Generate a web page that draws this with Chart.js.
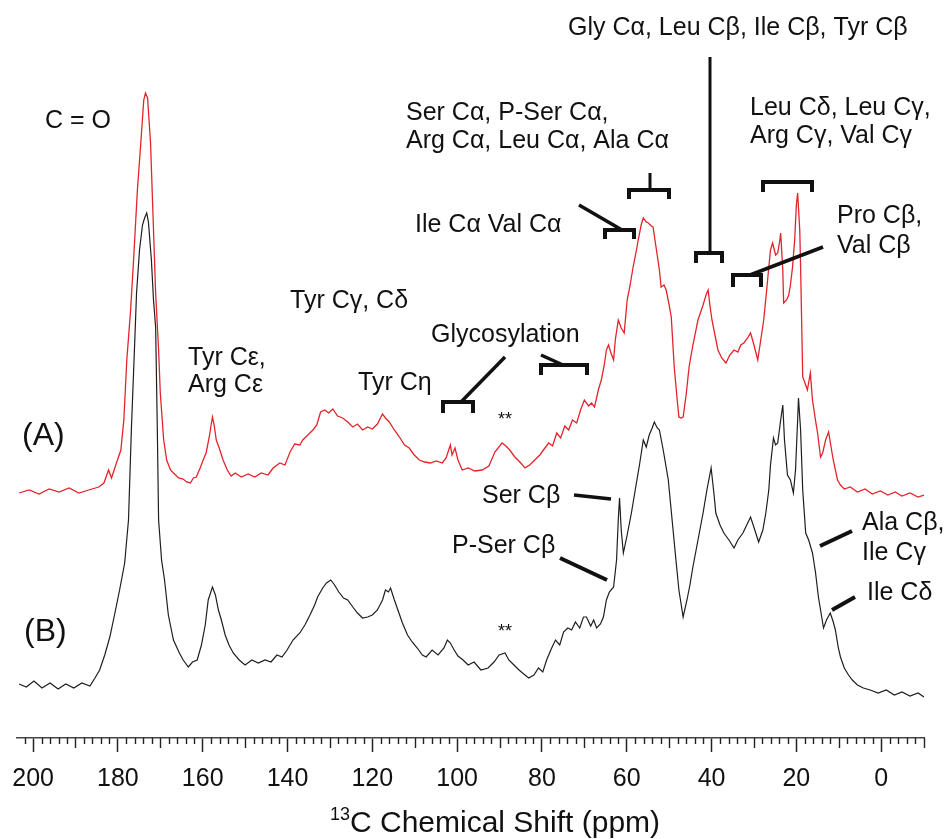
<!DOCTYPE html>
<html>
<head>
<meta charset="utf-8">
<script src="https://cdn.jsdelivr.net/npm/chart.js@4.4.0/dist/chart.umd.min.js"></script>
<style>
  html, body { margin: 0; padding: 0; background: #fff; }
</style>
</head>
<body>
<canvas id="nmrChart" width="950" height="839"></canvas>
<script>
// 13C spectra: (A) red trace on top, (B) black trace below
// intensity = height above each trace's own baseline

const ppmA = [
  203.3, 200.9, 198.6, 196.2, 193.9, 191.5, 189.2, 186.9, 184.5, 183.3,
  182.2, 181.5, 180.5, 179.3, 178.6, 177.9, 177.0, 176.3, 175.4, 174.6,
  173.9, 173.5, 173.0, 172.3, 171.6, 171.1, 170.4, 170.0, 169.2, 168.5,
  167.6, 166.9, 165.7, 164.6, 163.8, 162.9, 162.2, 161.5, 160.6, 159.9,
  159.2, 158.5, 157.7, 157.3, 156.8, 156.1, 155.2, 154.2, 153.3, 152.3,
  150.9, 149.3, 147.7, 146.2, 144.6, 143.4, 141.8, 140.6, 139.4, 138.3,
  137.1, 136.4, 135.2, 134.0, 133.1, 132.2, 131.2, 130.3, 129.3, 128.2,
  127.0, 125.8, 124.6, 123.5, 122.3, 121.1, 120.0, 118.8, 117.6, 116.9,
  116.0, 114.8, 113.6, 112.4, 111.3, 110.1, 108.9, 107.7, 106.3, 104.9,
  103.5, 102.6, 101.6, 101.2, 100.5, 99.8, 98.8, 97.4, 95.8, 94.1,
  92.5, 91.1, 89.4, 88.5, 87.6, 86.4, 85.2, 84.0, 82.9, 81.7,
  80.5, 79.3, 78.4, 77.5, 76.5, 75.6, 74.6, 73.7, 72.8, 71.8,
  70.9, 70.0, 69.0, 68.3, 67.6, 66.7, 66.0, 65.3, 64.8, 64.3,
  63.8, 63.1, 62.7, 62.0, 61.3, 60.6, 59.9, 59.2, 58.5, 57.7,
  57.3, 56.6, 56.1, 55.4, 54.9, 54.2, 53.8, 53.1, 52.3, 51.9,
  51.2, 50.7, 50.0, 49.5, 48.8, 48.1, 47.7, 47.2, 46.7, 46.0,
  45.3, 44.4, 43.2, 42.0, 41.3, 40.8, 40.4, 39.9, 39.2, 38.5,
  37.6, 36.6, 35.7, 34.7, 33.8, 33.1, 32.4, 31.5, 30.8, 30.0,
  29.1, 28.4, 27.7, 27.0, 26.5, 26.1, 25.6, 24.9, 24.4, 23.9,
  23.7, 23.2, 23.0, 22.3, 21.8, 21.4, 20.9, 20.4, 20.0, 19.7,
  19.2, 19.0, 18.5, 17.8, 17.4, 16.7, 16.2, 15.5, 15.0, 14.3,
  13.8, 13.1, 12.4, 11.7, 11.3, 10.3, 9.6, 8.7, 7.3, 5.6,
  3.8, 2.1, 0.2, -1.6, -3.3, -4.9, -6.8, -8.7, -10.1
]
const intA = [
  0, 3, -1, 4, 1, 5, 0, 3, 6, 10,
  23, 15, 28, 43, 73, 133, 183, 233, 303, 350,
  393, 400, 395, 350, 263, 200, 143, 100, 53, 33,
  23, 20, 15, 14, 11, 10, 15, 16, 25, 33,
  40, 55, 76, 68, 53, 45, 33, 23, 17, 20,
  16, 19, 16, 20, 18, 25, 30, 28, 41, 49,
  48, 53, 58, 63, 68, 81, 83, 80, 84, 77,
  75, 71, 66, 69, 63, 66, 64, 69, 79, 75,
  71, 63, 56, 48, 45, 38, 33, 31, 30, 32,
  30, 35, 48, 38, 45, 33, 23, 25, 22, 23,
  27, 41, 50, 47, 43, 36, 31, 25, 28, 33,
  38, 45, 50, 47, 60, 55, 67, 63, 73, 70,
  83, 93, 87, 90, 86, 103, 113, 128, 143, 148,
  141, 133, 153, 173, 165, 160, 193, 208, 226, 243,
  253, 268, 275, 271, 270, 267, 266, 246, 223, 206,
  208, 203, 188, 176, 126, 93, 76, 75, 76, 98,
  126, 148, 173, 188, 198, 203, 188, 173, 158, 143,
  135, 130, 138, 143, 141, 148, 150, 155, 160, 148,
  133, 153, 173, 203, 226, 243, 250, 238, 240, 253,
  260, 223, 190, 193, 198, 208, 226, 253, 288, 300,
  263, 226, 116, 108, 103, 120, 93, 73, 60, 36,
  40, 53, 61, 43, 33, 13, 8, 4, 6, 1,
  4, -1, 2, -2, 1, -3, 0, -4, -2
]

const ppmB = [
  203.3, 201.6, 199.8, 197.9, 196.0, 194.1, 192.3, 190.4, 188.5, 186.6,
  185.4, 184.3, 183.1, 181.9, 180.8, 179.6, 178.4, 177.5, 176.8, 176.1,
  175.6, 174.9, 174.2, 173.7, 173.2, 172.8, 172.1, 171.6, 171.1, 170.7,
  170.4, 169.7, 169.0, 168.1, 166.9, 165.5, 164.6, 163.4, 162.4, 161.3,
  160.3, 159.4, 158.7, 157.7, 157.0, 156.3, 155.6, 154.7, 153.8, 152.8,
  151.4, 150.0, 148.4, 146.9, 145.3, 143.9, 142.5, 141.3, 140.1, 138.7,
  137.1, 135.9, 134.7, 133.6, 132.9, 131.7, 130.8, 129.8, 128.9, 127.9,
  126.8, 125.8, 124.6, 123.5, 122.3, 121.1, 120.0, 118.8, 117.6, 116.9,
  116.2, 115.7, 114.8, 113.8, 112.9, 111.7, 110.6, 109.4, 108.2, 107.3,
  105.9, 104.5, 103.1, 102.3, 101.6, 100.7, 99.8, 98.6, 97.4, 96.0,
  94.4, 92.7, 91.3, 90.1, 88.7, 87.8, 86.6, 85.4, 84.3, 83.1,
  81.9, 80.8, 79.8, 78.9, 77.7, 76.8, 75.8, 74.9, 73.9, 73.0,
  72.1, 71.1, 70.2, 69.5, 68.5, 67.8, 67.1, 66.2, 65.5, 64.8,
  64.1, 63.1, 62.4, 62.0, 61.7, 61.3, 60.8, 59.9, 58.9, 58.0,
  57.0, 56.1, 55.4, 54.7, 54.0, 53.5, 52.8, 52.3, 51.4, 50.2,
  49.3, 48.4, 47.7, 46.7, 45.8, 45.1, 44.4, 43.2, 42.0, 41.1,
  40.1, 39.4, 39.0, 38.0, 37.1, 35.9, 34.7, 33.8, 32.6, 31.7,
  30.8, 29.8, 28.9, 27.9, 27.2, 26.5, 26.1, 25.4, 24.9, 24.4,
  23.7, 23.2, 22.8, 22.1, 21.4, 20.7, 20.2, 19.7, 19.5, 19.0,
  18.5, 17.8, 17.1, 16.2, 15.5, 14.8, 14.1, 13.6, 12.9, 12.0,
  11.3, 10.8, 10.1, 9.6, 8.7, 7.7, 6.8, 5.6, 4.2, 2.6,
  0.7, -1.2, -3.1, -4.9, -6.8, -8.7, -10.1
]
const intB = [
  3, 0, 6, -1, 4, -2, 3, -1, 4, 1,
  9, 17, 32, 50, 72, 97, 124, 167, 260, 337,
  394, 437, 462, 469, 474, 465, 427, 387, 360, 257,
  167, 127, 107, 72, 47, 34, 27, 20, 25, 27,
  42, 62, 87, 100, 92, 77, 67, 52, 42, 34,
  27, 22, 27, 24, 27, 25, 32, 30, 37, 47,
  54, 62, 72, 82, 90, 99, 104, 107, 102, 95,
  89, 87, 80, 74, 69, 70, 72, 77, 87, 97,
  95, 99, 87, 75, 64, 52, 45, 39, 32, 30,
  37, 32, 39, 47, 44, 37, 31, 27, 22, 25,
  17, 19, 25, 32, 34, 27, 22, 17, 13, 9,
  12, 19, 15, 27, 39, 47, 42, 55, 59, 57,
  65, 59, 70, 70, 61, 67, 59, 63, 70, 87,
  95, 100, 127, 167, 189, 157, 134, 152, 174, 197,
  222, 247, 240, 252, 259, 265, 259, 257, 237, 207,
  167, 127, 97, 70, 87, 102, 120, 147, 174, 197,
  219, 192, 174, 162, 154, 147, 139, 147, 154, 162,
  170, 157, 145, 157, 174, 197, 222, 249, 242, 244,
  267, 282, 247, 212, 207, 194, 217, 267, 289, 257,
  197, 154, 147, 134, 115, 90, 72, 59, 67, 74,
  65, 57, 39, 30, 19, 12, 7, 2, -1, -3,
  -6, -3, -8, -5, -9, -6, -10
]

// vertical stacking of the two traces
const offsetA = 245
const offsetB = 51

const tickLabels = [200, 180, 160, 140, 120, 100, 80, 60, 40, 20, 0]

const FONT = "'Liberation Sans', Arial, Helvetica, sans-serif"

const toPoints = (xs, ys, off) => xs.map((x, i) => ({ x: x, y: ys[i] + off }))

// peak assignments drawn over the plot (canvas px)
const anotaciones = {
  id: 'anotaciones',
  afterDraw(chart) {
    const ctx = chart.ctx
    const xs = chart.scales.x
    const bottom = chart.chartArea.bottom

    ctx.save()

    // minor ticks every 2 ppm, medium every 10
    ctx.strokeStyle = '#222'
    ctx.lineWidth = 1.4
    for (let v = -10; v <= 202; v += 2) {
      if (v % 20 === 0) continue
      const len = v % 10 === 0 ? 10 : 6
      const x = Math.round(xs.getPixelForValue(v)) + 0.5
      ctx.beginPath()
      ctx.moveTo(x, bottom)
      ctx.lineTo(x, bottom + len)
      ctx.stroke()
    }

    ctx.fillStyle = '#111'
    ctx.textBaseline = 'alphabetic'
    ctx.textAlign = 'left'
    ctx.font = '25px ' + FONT
    const txt = (s, x, y) => ctx.fillText(s, x, y)
    txt('C = O', 45, 128)
    txt('Tyr C\u03b5,', 188, 365)
    txt('Arg C\u03b5', 188, 392)
    txt('Tyr C\u03b3, C\u03b4', 290, 308)
    txt('Tyr C\u03b7', 358, 390)
    txt('Glycosylation', 431, 342)
    txt('Ile C\u03b1 Val C\u03b1', 415, 232)
    txt('Ser C\u03b1, P-Ser C\u03b1,', 406, 120)
    txt('Arg C\u03b1, Leu C\u03b1, Ala C\u03b1', 406, 148)
    txt('Gly C\u03b1, Leu C\u03b2, Ile C\u03b2, Tyr C\u03b2', 568, 35)
    txt('Leu C\u03b4, Leu C\u03b3,', 750, 115)
    txt('Arg C\u03b3, Val C\u03b3', 750, 143)
    txt('Pro C\u03b2,', 837, 223)
    txt('Val C\u03b2', 837, 253)
    txt('Ser C\u03b2', 482, 503)
    txt('P-Ser C\u03b2', 452, 553)
    txt('Ala C\u03b2,', 862, 530)
    txt('Ile C\u03b3', 862, 560)
    txt('Ile C\u03b4', 867, 600)

    ctx.font = '32px ' + FONT
    txt('(A)', 22, 445)
    txt('(B)', 24, 641)

    ctx.font = '18px ' + FONT
    ctx.textAlign = 'center'
    txt('**', 505, 425)
    txt('**', 505, 637)

    // brackets and pointer lines
    ctx.strokeStyle = '#111'
    ctx.lineCap = 'butt'
    ctx.lineJoin = 'miter'
    const seg = (x1, y1, x2, y2, w) => {
      ctx.lineWidth = w
      ctx.beginPath()
      ctx.moveTo(x1, y1)
      ctx.lineTo(x2, y2)
      ctx.stroke()
    }
    const bracket = (x1, x2, y, leg) => {
      ctx.lineWidth = 4
      ctx.beginPath()
      ctx.moveTo(x1, y + leg)
      ctx.lineTo(x1, y)
      ctx.lineTo(x2, y)
      ctx.lineTo(x2, y + leg)
      ctx.stroke()
    }
    bracket(443, 473, 402, 11); seg(461, 402, 505, 357, 3.5)
    bracket(541, 587, 365, 10); seg(541, 355, 563, 365, 3.5)
    bracket(605, 634, 230, 9); seg(579, 205, 622, 230, 3.5)
    bracket(629, 669, 190, 9); seg(650, 173, 650, 190, 3)
    bracket(696, 722, 253, 10); seg(710, 57, 710, 253, 3)
    bracket(763, 812, 182, 10)
    bracket(733, 761, 275, 12); seg(750, 275, 823, 247, 3.5)
    seg(574, 495, 611, 499, 3.5)
    seg(560, 558, 607, 580, 4)
    seg(820, 546, 852, 531, 4)
    seg(832, 610, 855, 597, 4)

    // axis title with superscript 13
    const main = 'C Chemical Shift (ppm)'
    ctx.textAlign = 'left'
    ctx.font = '18px ' + FONT
    const wSup = ctx.measureText('13').width
    ctx.font = '30px ' + FONT
    const wMain = ctx.measureText(main).width
    const x0 = 495 - (wSup + wMain) / 2
    ctx.font = '18px ' + FONT
    txt('13', x0, 820)
    ctx.font = '30px ' + FONT
    txt(main, x0 + wSup, 832)

    ctx.restore()
  }
}

const data = {
  datasets: [
    {
      label: '(A)',
      data: toPoints(ppmA, intA, offsetA),
      showLine: true,
      borderColor: '#e3242b',
      borderWidth: 1.3,
      pointRadius: 0,
    },
    {
      label: '(B)',
      data: toPoints(ppmB, intB, offsetB),
      showLine: true,
      borderColor: '#1e1e1e',
      borderWidth: 1.2,
      pointRadius: 0,
    }
  ]
}

const options = {
  responsive: false,
  animation: false,
  devicePixelRatio: 1,
  layout: { padding: { left: 13, right: 26, top: 0, bottom: 0 } },
  plugins: {
    legend: { display: false },
    tooltip: { enabled: false }
  },
  scales: {
    x: {
      type: 'linear',
      reverse: true,
      min: -10.1,
      max: 203.75,
      afterBuildTicks: scale => { scale.ticks = tickLabels.map(v => ({ value: v })) },
      afterFit: scale => { scale.height = 101 },
      ticks: {
        autoSkip: false,
        maxRotation: 0,
        padding: 12,
        color: '#111',
        font: { family: FONT, size: 25 }
      },
      grid: {
        drawOnChartArea: false,
        tickLength: 14,
        tickWidth: 1.5,
        tickColor: '#222'
      },
      border: { color: '#444', width: 1.5 }
    },
    y: {
      display: false,
      min: 0,
      max: 738
    }
  }
}

new Chart('nmrChart', {
  type: 'scatter',
  data,
  options,
  plugins: [anotaciones]
})
</script>
</body>
</html>
